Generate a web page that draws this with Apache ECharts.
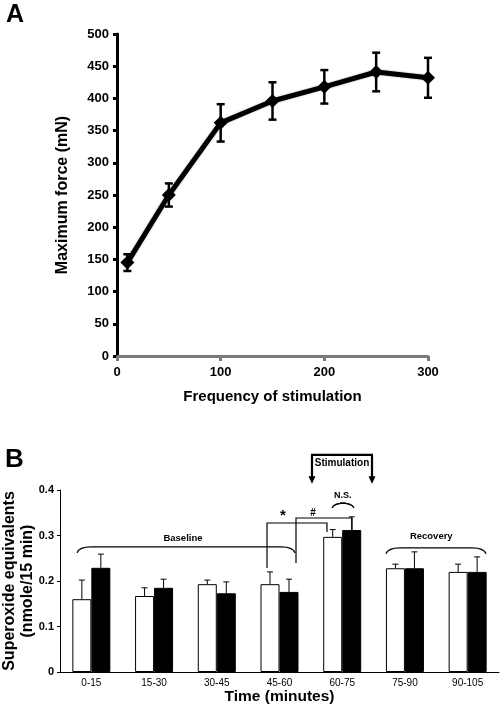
<!DOCTYPE html>
<html><head><meta charset="utf-8">
<script src="https://cdn.jsdelivr.net/npm/echarts@6/dist/echarts.min.js"></script>
<style>html,body{margin:0;padding:0;background:#fff}#c{width:500px;height:708px}</style>
</head><body><div id="c"></div>
<script>
// ---- Panel A data ----
const freq = [10, 50, 100, 150, 200, 250, 300];
const force = [145, 250, 362, 396, 418, 441, 432];
const forceErr = [13, 18, 29, 29, 26, 30, 31];

// ---- Panel B data ----
const timeCats = ['0-15', '15-30', '30-45', '45-60', '60-75', '75-90', '90-105'];
const openVals = [0.160, 0.167, 0.193, 0.193, 0.297, 0.228, 0.220];
const openErr  = [0.042, 0.018, 0.009, 0.027, 0.016, 0.009, 0.017];
const filledVals = [0.229, 0.185, 0.173, 0.176, 0.312, 0.228, 0.220];
const filledErr  = [0.030, 0.019, 0.025, 0.028, 0.029, 0.036, 0.033];

const FONT = '"Liberation Sans", Arial, sans-serif';
const BAR_W = 19;

const chart = echarts.init(document.getElementById('c'));

function errA(params, api) {
  const x = api.value(0), y = api.value(1), e = api.value(2);
  const t = api.coord([x, y + e]), b = api.coord([x, y - e]);
  const hw = 4, st = { stroke: '#000', lineWidth: 2.5 };
  return { type: 'group', children: [
    { type: 'line', shape: { x1: t[0], y1: t[1], x2: b[0], y2: b[1] }, style: st },
    { type: 'line', shape: { x1: t[0] - hw, y1: t[1], x2: t[0] + hw, y2: t[1] }, style: st },
    { type: 'line', shape: { x1: b[0] - hw, y1: b[1], x2: b[0] + hw, y2: b[1] }, style: st }
  ]};
}
function errB(offset) {
  return function (params, api) {
    const c = api.coord([api.value(0), api.value(1)]);
    const t = api.coord([api.value(0), api.value(1) + api.value(2)]);
    const x = c[0] + offset, st = { stroke: '#000', lineWidth: 1 };
    return { type: 'group', children: [
      { type: 'line', shape: { x1: x, y1: c[1], x2: x, y2: t[1] }, style: st },
      { type: 'line', shape: { x1: x - 3, y1: t[1], x2: x + 3, y2: t[1] }, style: st }
    ]};
  };
}
function annot(params, api) {
  const P = (u, v) => api.coord([u, v]);
  const lineSt = { stroke: '#000', lineWidth: 1.3, fill: null };
  const ch = [];
  function brace(u1, u2, v, drop) {
    const a = P(u1, v), b = P(u2, v);
    ch.push({ type: 'path', shape: { pathData:
      `M${a[0]} ${a[1] + drop} Q${a[0] + 2} ${a[1]} ${a[0] + 14} ${a[1]} L${b[0] - 14} ${b[1]} Q${b[0] - 2} ${b[1]} ${b[0]} ${b[1] + drop}` },
      style: lineSt });
  }
  function txt(u, v, s, size) {
    const p = P(u, v);
    ch.push({ type: 'text', x: p[0], y: p[1], style: { text: s, font: `bold ${size}px ${FONT}`,
      fill: '#000', align: 'center', verticalAlign: 'middle' } });
  }
  function poly(pts, w) {
    ch.push({ type: 'polyline', shape: { points: pts.map(p => P(p[0], p[1])) },
      style: { stroke: '#000', lineWidth: w || 1.2, fill: null } });
  }
  brace(-0.229, 3.247, 0.275, 6);
  txt(1.461, 0.2945, 'Baseline', 9.5);
  brace(4.698, 6.293, 0.273, 6);
  txt(5.42, 0.298, 'Recovery', 9.5);
  // Stimulation box with arrows
  poly([[3.518, 0.425], [3.518, 0.477], [4.475, 0.477], [4.475, 0.425]], 2.2);
  [3.518, 4.475].forEach(u => {
    const tip = P(u, 0.414), base = P(u, 0.43);
    ch.push({ type: 'polygon', shape: { points: [[tip[0], tip[1]], [tip[0] - 3.5, base[1]], [tip[0] + 3.5, base[1]]] },
      style: { fill: '#000' } });
  });
  txt(3.997, 0.459, 'Stimulation', 10);
  // N.S. bracket
  brace(3.837, 4.188, 0.3714, 5);
  txt(4.01, 0.387, 'N.S.', 9);
  // * and # brackets
  poly([[2.801, 0.2286], [2.801, 0.3275], [3.757, 0.3275], [3.757, 0.3077]]);
  poly([[3.263, 0.2396], [3.263, 0.3385], [4.156, 0.3385], [4.156, 0.312]]);
  txt(3.056, 0.343, '*', 15);
  txt(3.534, 0.348, '#', 10);
  return { type: 'group', children: ch };
}

chart.setOption({
  animation: false,
  backgroundColor: '#fff',
  textStyle: { fontFamily: FONT },
  graphic: [
    { type: 'text', left: 6, top: 3, style: { text: 'A', font: `bold 25px ${FONT}`, fill: '#000' } },
    { type: 'text', left: 5, top: 447, style: { text: 'B', font: `bold 26px ${FONT}`, fill: '#000' } }
  ],
  grid: [
    { left: 117, top: 34, width: 311, height: 322, containLabel: false, outerBoundsMode: 'none' },
    { left: 60, top: 490, width: 439, height: 182, containLabel: false, outerBoundsMode: 'none' }
  ],
  xAxis: [
    { type: 'value', gridIndex: 0, min: 0, max: 300, interval: 100,
      name: 'Frequency of stimulation', nameLocation: 'middle', nameGap: 33,
      nameTextStyle: { fontFamily: FONT, fontWeight: 'bold', fontSize: 15, color: '#000' },
      axisLine: { onZero: false, lineStyle: { color: '#7a7a7a', width: 3 } },
      axisTick: { length: 5, lineStyle: { color: '#7a7a7a', width: 3 } },
      axisLabel: { margin: 10, fontFamily: FONT, fontWeight: 'bold', fontSize: 13, color: '#000' },
      splitLine: { show: false } },
    { type: 'category', gridIndex: 1, data: timeCats,
      name: 'Time (minutes)', nameLocation: 'middle', nameGap: 17,
      nameTextStyle: { fontFamily: FONT, fontWeight: 'bold', fontSize: 15.5, color: '#000' },
      axisLine: { onZero: false, lineStyle: { color: '#000', width: 1 } },
      axisTick: { length: 4, alignWithLabel: false, lineStyle: { color: '#000', width: 1 } },
      axisLabel: { margin: 6, fontFamily: FONT, fontSize: 10, color: '#000', interval: 0 } },
    { type: 'value', gridIndex: 1, min: -0.5, max: 6.5, show: false, splitLine: { show: false } }
  ],
  yAxis: [
    { type: 'value', gridIndex: 0, min: 0, max: 500, interval: 50,
      name: 'Maximum force (mN)', nameLocation: 'middle', nameGap: 46, nameRotate: 90,
      nameTextStyle: { fontFamily: FONT, fontWeight: 'bold', fontSize: 16, color: '#000' },
      axisLine: { show: true, onZero: false, lineStyle: { color: '#000', width: 3 } },
      axisTick: { show: true, length: 4, lineStyle: { color: '#000', width: 3 } },
      axisLabel: { margin: 8, fontFamily: FONT, fontWeight: 'bold', fontSize: 13, color: '#000' },
      splitLine: { show: false } },
    { type: 'value', gridIndex: 1, min: 0, max: 0.4, interval: 0.1,
      name: 'Superoxide equivalents\n(nmole/15 min)', nameLocation: 'middle', nameGap: 23, nameRotate: 90,
      nameMoveOverlap: false,
      nameTextStyle: { fontFamily: FONT, fontWeight: 'bold', fontSize: 16, lineHeight: 18, color: '#000' },
      axisLine: { show: true, onZero: false, lineStyle: { color: '#000', width: 1 } },
      axisTick: { show: true, length: 3, lineStyle: { color: '#000', width: 1 } },
      axisLabel: { margin: 6, fontFamily: FONT, fontWeight: 'bold', fontSize: 11, color: '#000' },
      splitLine: { show: false } }
  ],
  series: [
    { type: 'custom', xAxisIndex: 0, yAxisIndex: 0, z: 1, renderItem: errA,
      data: freq.map((f, i) => [f, force[i], forceErr[i]]) },
    { type: 'line', xAxisIndex: 0, yAxisIndex: 0, z: 3,
      data: freq.map((f, i) => [f, force[i]]),
      symbol: 'diamond', symbolSize: 14,
      lineStyle: { color: '#000', width: 5, shadowColor: 'rgba(0,0,0,0.35)', shadowBlur: 2 },
      itemStyle: { color: '#000' } },
    { type: 'bar', xAxisIndex: 1, yAxisIndex: 1, data: openVals, barWidth: BAR_W, barGap: '0%',
      itemStyle: { color: '#fff', borderColor: '#000', borderWidth: 1 } },
    { type: 'bar', xAxisIndex: 1, yAxisIndex: 1, data: filledVals, barWidth: BAR_W, barGap: '0%',
      itemStyle: { color: '#000', borderColor: '#000', borderWidth: 1 } },
    { type: 'custom', xAxisIndex: 1, yAxisIndex: 1, z: 4, renderItem: errB(-BAR_W / 2),
      data: timeCats.map((c, i) => [i, openVals[i], openErr[i]]) },
    { type: 'custom', xAxisIndex: 1, yAxisIndex: 1, z: 4, renderItem: errB(BAR_W / 2),
      data: timeCats.map((c, i) => [i, filledVals[i], filledErr[i]]) },
    { type: 'custom', xAxisIndex: 2, yAxisIndex: 1, z: 5, clip: false, renderItem: annot,
      data: [[0, 0]] }
  ]
});
</script></body></html>
